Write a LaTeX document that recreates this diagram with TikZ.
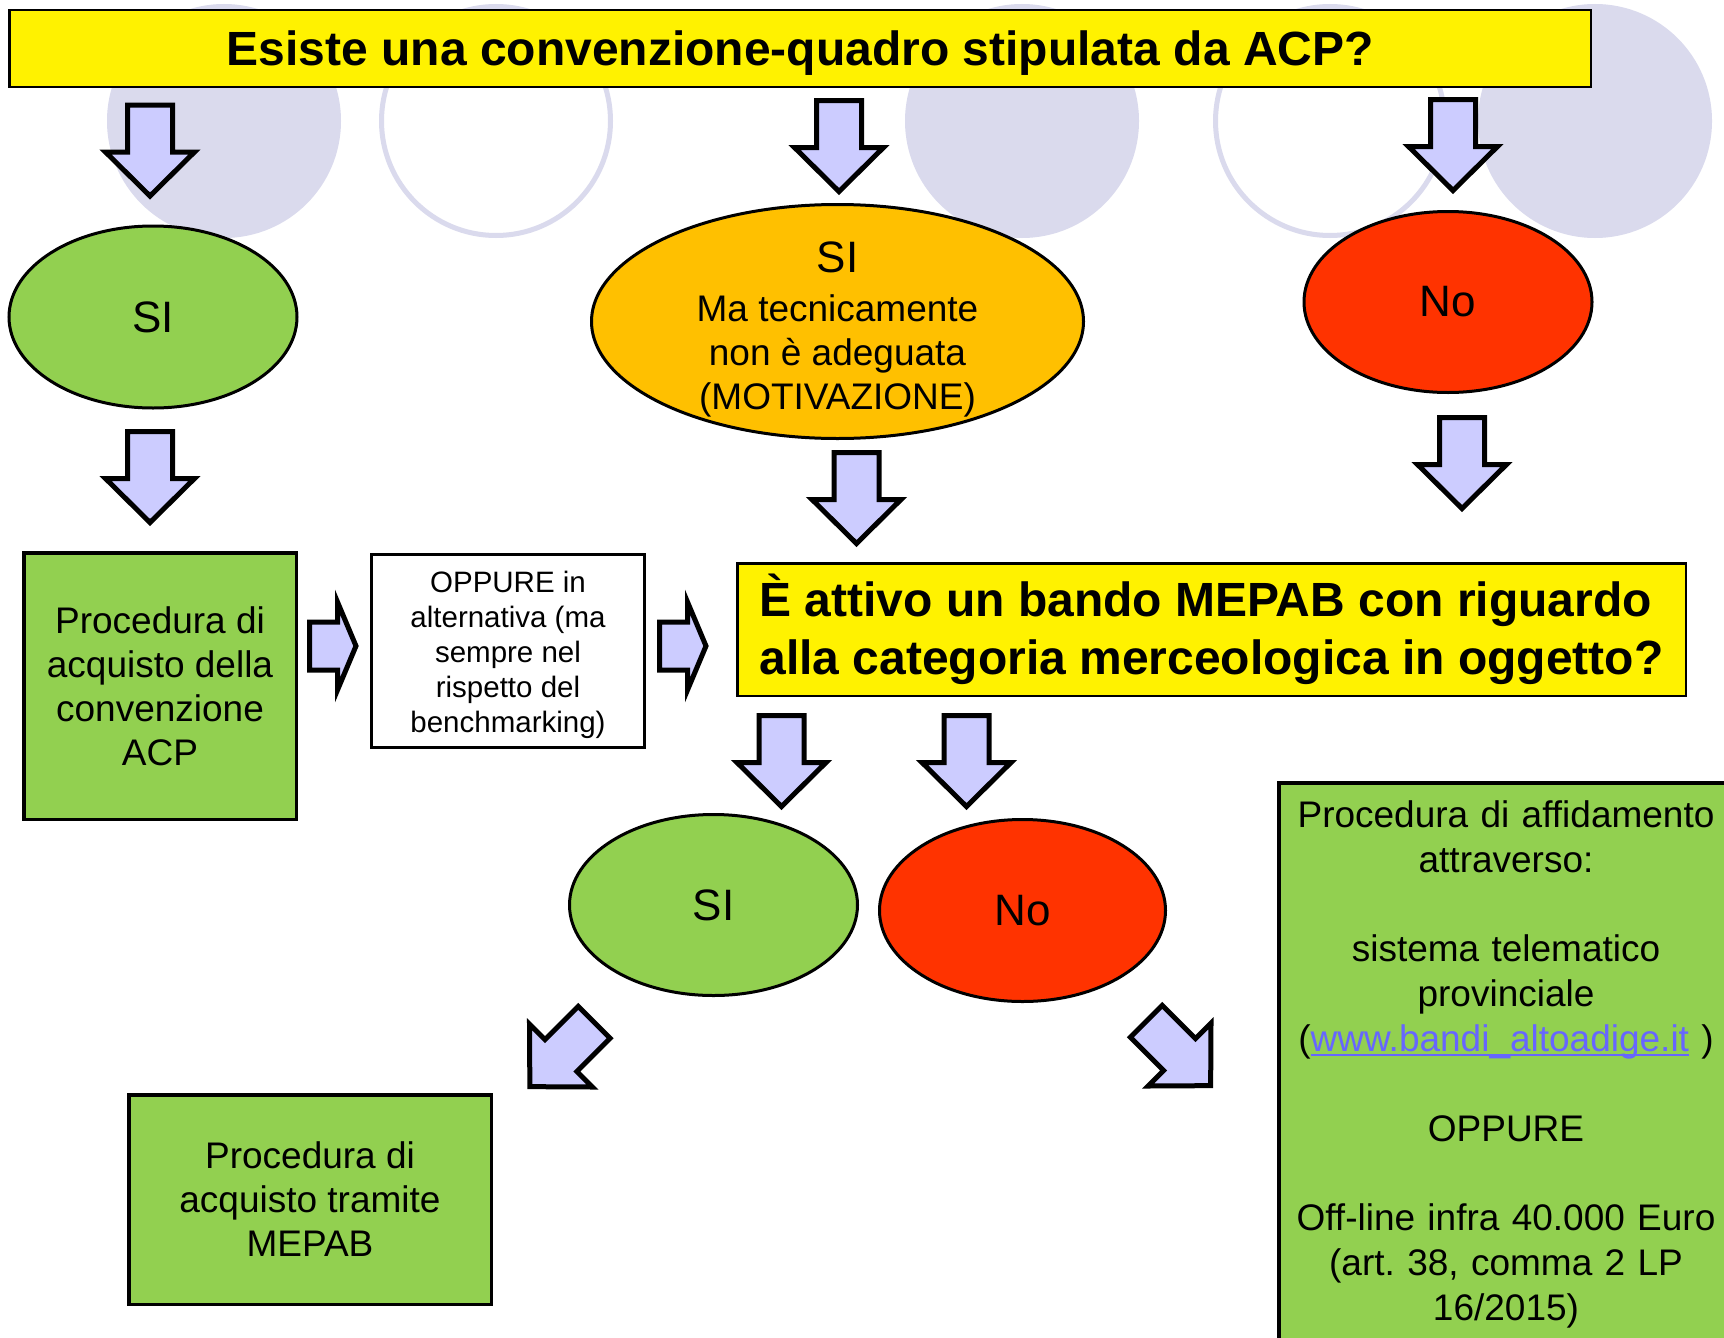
\documentclass[tikz,border=0pt]{standalone}
\usepackage{fontspec}
\setmainfont{Liberation Sans}
\usepackage{tikz}
\usepackage{xcolor}
\usetikzlibrary{shapes,arrows,positioning}

\definecolor{bgcircle}{RGB}{218,218,237}
\definecolor{arrowfill}{RGB}{204,204,255}
\definecolor{okgreen}{RGB}{146,208,80}
\definecolor{warnorange}{RGB}{255,192,0}
\definecolor{nored}{RGB}{255,51,0}
\definecolor{linkblue}{RGB}{102,102,255}

\newlength\linkwd
\newcommand\weblink[1]{\settowidth{\linkwd}{#1}\textcolor{linkblue}{\rlap{\rule[-4.5pt]{\linkwd}{2.5pt}}#1}}
\frenchspacing

\begin{document}
\begin{tikzpicture}[x=1pt, y=-1pt,
    every node/.style={font=\fontsize{37}{42.5}\selectfont, align=center, inner sep=0pt},
    question/.style={draw, fill=yellow, line width=2.5pt, font=\bfseries\fontsize{48}{58}\selectfont},
    answer/.style={draw, ellipse, line width=3pt, font=\fontsize{44}{50}\selectfont},
    stepbox/.style={draw, rectangle, fill=okgreen, line width=3.5pt, font=\fontsize{37}{44}\selectfont},
    bgring/.style={draw=bgcircle, line width=5pt},
    pics/downarrow/.style={code={
        \draw[line width=5pt, fill=arrowfill] (0,-22.5) -- (47,-22.5) -- (47,-44.5) -- (91,0)
            -- (47,44.5) -- (47,22.5) -- (0,22.5) -- cycle;}},
    pics/rightarrow/.style={code={
        \draw[line width=5pt, fill=arrowfill] (0,-24) -- (28,-24) -- (28,-44) -- (46.5,0)
            -- (28,44) -- (28,24) -- (0,24) -- cycle;}}]
\useasboundingbox (0,0) rectangle (1724,1338);
\clip (0,0) rectangle (1724,1338);
\fill[white] (0,0) rectangle (1724,1338);

\foreach \cx in {224,1022,1595}
    \fill[bgcircle] (\cx,121) circle (117);
\foreach \cx in {496,1330}
    \draw[bgring] (\cx,121) circle (114.5);

\node (acp) [question, minimum width=1581.5pt, minimum height=76.5pt] at (800.25,48.5)
    {\rule{0pt}{44pt}Esiste una convenzione-quadro stipulata da ACP?};

\pic[rotate=-90] at (150,105) {downarrow};
\pic[rotate=-90] at (839,100.5) {downarrow};
\pic[rotate=-90] at (1453,99.5) {downarrow};

\node (si1) [answer, fill=okgreen, minimum width=288pt, minimum height=182pt] at (153,317) {SI};
\node (si2) [answer, fill=warnorange, minimum width=492pt, minimum height=234pt, inner ysep=-20pt,
    font=\fontsize{37}{44}\selectfont] at (837.5,321.5)
    {\rule{0pt}{46.3pt}{\fontsize{44}{50}\selectfont SI}\\[4.7pt] Ma tecnicamente\\ non è adeguata\\ (MOTIVAZIONE)};
\node (no1) [answer, fill=nored, minimum width=288pt, minimum height=181pt] at (1448,302) {No};

\pic[rotate=-90] at (150,431.5) {downarrow};
\pic[rotate=-90] at (856.5,452.5) {downarrow};
\pic[rotate=-90] at (1462,417.5) {downarrow};

\node (conv) [stepbox, minimum width=272.5pt, minimum height=266.5pt] at (160,686)
    {Procedura di\\ acquisto della\\ convenzione\\ ACP};
\pic at (309.5,646) {rightarrow};
\node (alt) [draw, fill=white, line width=3pt, minimum width=273pt, minimum height=193pt,
    font=\fontsize{29.5}{35}\selectfont] at (508,651)
    {\rule{0pt}{28.5pt}OPPURE in\\ alternativa (ma\\ sempre nel\\ rispetto del\\ benchmarking)};
\pic at (659.5,646) {rightarrow};
\node (mepab) [question, align=left, minimum width=948.5pt, minimum height=132.5pt] at (1211.5,629.5)
    {È attivo un bando MEPAB con riguardo\\ alla categoria merceologica in oggetto?};

\pic[rotate=-90] at (781.5,715.5) {downarrow};
\pic[rotate=-90] at (966.5,715.5) {downarrow};

\node (si3) [answer, fill=okgreen, minimum width=288pt, minimum height=181pt] at (713.5,905) {SI};
\node (no2) [answer, fill=nored, minimum width=286pt, minimum height=182pt] at (1022.5,910.5) {No};

\pic[rotate=-135] at (594.2,1022.3) {downarrow};
\pic[rotate=-45] at (1146.3,1021.3) {downarrow};

\node (mepa) [stepbox, minimum width=362.5pt, minimum height=209.5pt] at (310,1199.5)
    {Procedura di\\ acquisto tramite\\ MEPAB};
\node (affid) [stepbox, anchor=north, text width=440pt, inner xsep=7pt, inner ysep=18pt,
    font=\fontsize{37}{44.8}\selectfont] at (1506,781)
    {Procedura di affidamento\\ attraverso:\\[44.8pt]
     sistema telematico\\ provinciale\\ (\weblink{www.bandi\_altoadige.it} )\\[44.8pt]
     OPPURE\\[44.8pt]
     Off-line infra 40.000 Euro\\ (art. 38, comma 2 LP\\ 16/2015)\\[120pt] \mbox{}};
\end{tikzpicture}
\end{document}
